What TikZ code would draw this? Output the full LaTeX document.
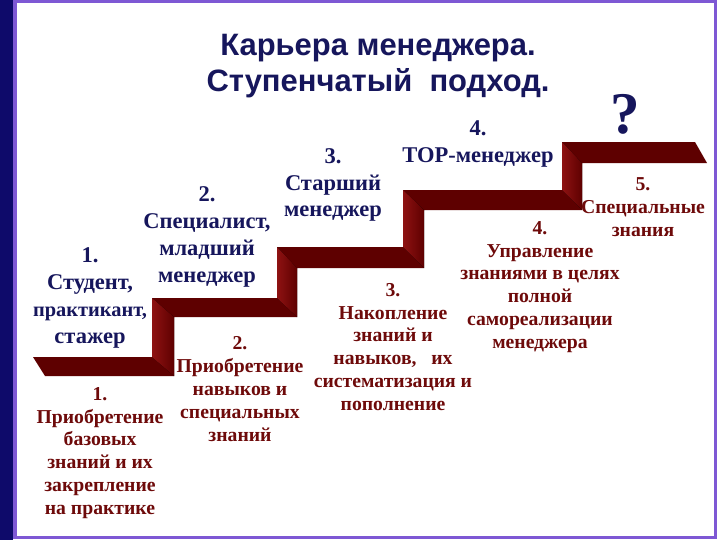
\documentclass[tikz,border=0pt]{standalone}
\usepackage{xcolor}
\usepackage{fontspec}
\setmainfont{Liberation Serif}
\newfontfamily\titlefont{Liberation Sans}
\usepackage{tikz}
\definecolor{navy}{HTML}{16165C}
\definecolor{taskred}{HTML}{6E0A0A}
\definecolor{stairdark}{HTML}{5E0000}
\definecolor{stairlight}{HTML}{8E1212}
\definecolor{framenavy}{HTML}{0E0A6A}
\definecolor{framepurple}{HTML}{7E58D4}

\begin{document}
\begin{tikzpicture}[x=0.025cm, y=-0.025cm, align=center,
        role/.style={text=navy, inner sep=0pt, font=\bfseries\fontsize{16}{19}\selectfont},
        task/.style={text=taskred, inner sep=0pt, font=\bfseries\fontsize{14}{16.3}\selectfont},
        riser/.style={left color=stairlight, right color=stairdark}]
        \useasboundingbox (0,0) rectangle (720,540);
        \fill[white] (0,0) rectangle (720,540);
        \fill[framenavy] (0,0) rectangle (13,540);
        \draw[framepurple, line width=2.6pt] (15,1.5) rectangle (715.5,537.5);
        % the stairs
        \fill[stairdark] (33,357) -- (152,357) -- (152,298) -- (277,298) -- (277,247) -- (403,247)
            -- (403,190) -- (562,190) -- (562,142) -- (695,142) -- (707,163) -- (582,163)
            -- (582,210) -- (424,210) -- (424,268) -- (297,268) -- (297,317) -- (174,317)
            -- (174,376) -- (45,376) -- cycle;
        \fill[riser] (152,298) -- (174,317) -- (174,376) -- (152,357) -- cycle;
        \fill[riser] (277,247) -- (297,268) -- (297,317) -- (277,298) -- cycle;
        \fill[riser] (403,190) -- (424,210) -- (424,268) -- (403,247) -- cycle;
        \fill[riser] (562,142) -- (582,163) -- (582,210) -- (562,190) -- cycle;
        % title and question
        \node[text=navy, inner sep=0pt, font=\titlefont\bfseries\fontsize{22}{25.6}\selectfont] (title) at (378,66)
            {Карьера менеджера.\\Ступенчатый\ \ подход.};
        \node[text=navy, inner sep=0pt, font=\bfseries\fontsize{42}{42}\selectfont] (quest) at (625,114) {?};
        % positions
        \node[role] (pos1) at (90,298) {1.\\Студент,\\{\fontsize{14.5}{19}\selectfont практикант,}\\стажер};
        \node[role] (pos2) at (207,237) {2.\\Специалист,\\младший\\менеджер};
        \node[role] (pos3) at (333,185) {3.\\Старший\\менеджер};
        \node[role] (pos4) at (478,144) {4.\\TOP-менеджер};
        % tasks
        \node[task] (task1) at (100,453) {1.\\Приобретение\\базовых\\знаний и их\\закрепление\\на практике};
        \node[task] (task2) at (240,389) {2.\\Приобретение\\навыков и\\специальных\\знаний};
        \node[task] (task3) at (393,347) {3.\\Накопление\\знаний и\\навыков,\ \ \ их\\систематизация и\\пополнение};
        \node[task] (task4) at (540,287) {4.\\Управление\\знаниями в целях\\полной\\самореализации\\менеджера};
        \node[task] (task5) at (643,207) {5.\\Специальные\\знания};
\end{tikzpicture}
\end{document}
